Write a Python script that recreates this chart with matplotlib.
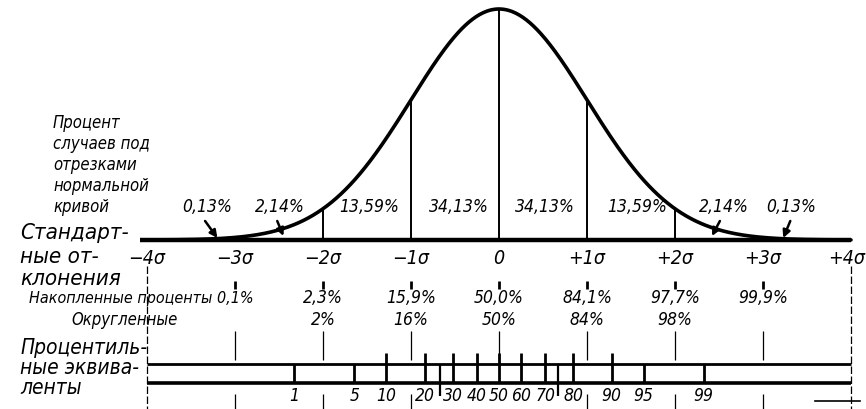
import matplotlib.pyplot as plt
import numpy as np
from statistics import NormalDist

# --- data -------------------------------------------------------------
sigma_ticks = [-4, -3, -2, -1, 0, 1, 2, 3, 4]
sigma_labels = ['−4σ', '−3σ', '−2σ', '−1σ', '0', '+1σ', '+2σ', '+3σ', '+4σ']
area_labels = ['0,13%', '2,14%', '13,59%', '34,13%', '34,13%', '13,59%', '2,14%', '0,13%']
cum_sigma = [-3, -2, -1, 0, 1, 2, 3]
cum_labels = ['0,1%', '2,3%', '15,9%', '50,0%', '84,1%', '97,7%', '99,9%']
round_sigma = [-2, -1, 0, 1, 2]
round_labels = ['2%', '16%', '50%', '84%', '98%']
pct_major = [10, 20, 30, 40, 50, 60, 70, 80, 90]
pct_minor = [1, 5, 95, 99]
pct_quart = [25, 75]
pct_labels = [1, 5, 10, 20, 30, 40, 50, 60, 70, 80, 90, 95, 99]
split_sigma = [-2, -1, 0, 1, 2]

# --- layout (label positions in sigma units) ---------------------------
area_x = [-3.32, -2.49, -1.47, -0.45, 0.52, 1.57, 2.56, 3.32]
arrows = [((-3.34, 221), (-3.2, 238)), ((-2.52, 221), (-2.45, 236)),
          ((2.51, 221), (2.42, 236)), ((3.31, 221), (3.23, 238))]

nd = NormalDist()
fam = ['DejaVu Sans']
W, H = 866, 409
x0, px = 499, 88          # pixel of 0 and pixels per sigma
xlim = ((0 - x0) / px, (W - x0) / px)

fig = plt.figure(figsize=(W / 100, H / 100), dpi=100)
fig.patch.set_facecolor('white')

# curve axes: baseline at y=240 px, peak at y=9 px
base_px, peak_px = 240, 9
ax_c = fig.add_axes([0, (H - base_px) / H, 1, (base_px - peak_px) / H])
ax_c.set_xlim(*xlim)
ax_c.set_ylim(0, nd.pdf(0))
ax_c.axis('off')

z = np.linspace(-4, 4, 600)
dens = np.array([nd.pdf(v) for v in z])
ax_c.plot(z, dens, color='black', lw=2.6, solid_capstyle='round', clip_on=False)
ax_c.hlines(0, (140 - x0) / px, 4, color='black', lw=3.2, clip_on=False)
ax_c.vlines(split_sigma, 0, [nd.pdf(s) for s in split_sigma], color='black', lw=1.4)

# overlay axes in pixel rows for the scales and text
ax = fig.add_axes([0, 0, 1, 1], facecolor='none')
ax.set_xlim(*xlim)
ax.set_ylim(H, 0)
ax.axis('off')

def T(x, y, s, size, ha='center', **kw):
    ax.text(x, y, s, fontsize=size, ha=ha, va='center', family=fam,
            style='italic', fontstretch='condensed', **kw)

# area percentages and arrows
for xv, s in zip(area_x, area_labels):
    T(xv, 207, s, 12.5)
for (a, b) in arrows:
    ax.annotate('', xy=b, xytext=a,
                arrowprops=dict(arrowstyle='-|>', color='black', lw=1.8,
                                mutation_scale=11, shrinkA=0, shrinkB=0))

# sigma labels (last one pulled in from the right edge)
for s, lab in zip(sigma_ticks[:-1], sigma_labels[:-1]):
    T(s, 258, lab, 14)
T((865 - x0) / px, 258, sigma_labels[-1], 14, ha='right')

# left side captions
lx = (53 - x0) / px
for i, line in enumerate(['Процент', 'случаев под', 'отрезками', 'нормальной', 'кривой']):
    T(lx, 123 + 21 * i, line, 12, ha='left')
sx = (20 - x0) / px
for yv, line in zip([233, 257, 279], ['Стандарт-', 'ные от-', 'клонения']):
    T(sx, yv, line, 16, ha='left')
for yv, line in zip([348, 368, 388], ['Процентиль-', 'ные эквива-', 'ленты']):
    T(sx, yv, line, 15, ha='left')

# cumulative percentages
T((253 - x0) / px, 298, 'Накопленные проценты ' + cum_labels[0], 11.5, ha='right')
for s, lab in zip(cum_sigma[1:], cum_labels[1:]):
    T(s, 298, lab, 12.5)
T((178 - x0) / px, 320, 'Округленные', 12, ha='right')
for s, lab in zip(round_sigma, round_labels):
    T(s, 320, lab, 12.5)

# small marks above the cumulative row
ax.vlines(cum_sigma, 281, 289, color='black', lw=2)

# thin guide lines from sigma points
ax.vlines([-4, 4], 266, 409, color='black', lw=0.9, linestyles=(0, (6, 2)))
ax.vlines(cum_sigma, 331, 360, color='black', lw=0.9)
ax.vlines([-3, -2, -1, 1, 2, 3], 394, 409, color='black', lw=0.9)

# percentile scale
ax.hlines(364, -4, 4, color='black', lw=2)
ax.hlines(383, -4, 4, color='black', lw=2.6)
zq = lambda p: nd.inv_cdf(p / 100)
ax.vlines([zq(p) for p in pct_major], 353, 383, color='black', lw=2)
ax.vlines([zq(p) for p in pct_minor], 364, 383, color='black', lw=2)
ax.vlines([zq(p) for p in pct_quart], 364, 396, color='black', lw=1.6)
for p in pct_labels:
    T(zq(p), 396, str(p), 12.5)

# small mark at lower right
ax.plot([(815 - x0) / px, (860 - x0) / px], [401, 401], color='black', lw=1.2)

fig.savefig('out.png', dpi=100, facecolor='white')
